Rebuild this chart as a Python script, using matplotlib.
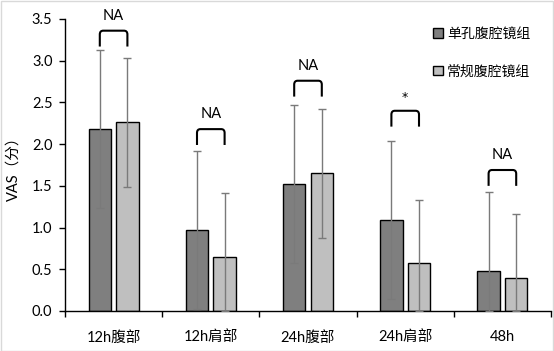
import matplotlib
matplotlib.use("Agg")
import matplotlib.pyplot as plt
from matplotlib.path import Path
from matplotlib.patches import PathPatch, Rectangle
import numpy as np

categories = ["12h腹部", "12h肩部", "24h腹部", "24h肩部", "48h"]
single_mean = [2.18, 0.97, 1.52, 1.09, 0.48]
single_sd = [0.95, 0.95, 0.95, 0.95, 0.95]
conv_mean = [2.26, 0.65, 1.65, 0.57, 0.39]
conv_sd = [0.77, 0.76, 0.77, 0.76, 0.77]
sig_labels = ["NA", "NA", "NA", "*", "NA"]
bracket_top = [3.36, 2.18, 2.76, 2.40, 1.69]
series_names = ["单孔腹腔镜组", "常规腹腔镜组"]
yticks = [0.0, 0.5, 1.0, 1.5, 2.0, 2.5, 3.0, 3.5]

fam = ["Lato", "Noto Sans CJK SC", "DejaVu Sans"]
plt.rcParams["font.family"] = fam

W, H = 554, 351
fig = plt.figure(figsize=(W / 100, H / 100), dpi=100)
ax = fig.add_axes([65 / W, 1 - 311 / H, (551 - 65) / W, (311 - 19) / H])

x = np.arange(len(categories)) + 0.5
off = 0.142
bw = 0.23

ax.bar(x - off, single_mean, bw, color="#7f7f7f", edgecolor="black", linewidth=1.0, label=series_names[0], zorder=2)
ax.bar(x + off, conv_mean, bw, color="#bfbfbf", edgecolor="black", linewidth=1.0, label=series_names[1], zorder=2)

def lower(m, s):
    return [min(a, b) for a, b in zip(m, s)]

ax.errorbar(x - off, single_mean, yerr=[lower(single_mean, single_sd), single_sd], fmt="none",
            ecolor="#7a7a7a", elinewidth=1.0, capsize=3, capthick=1.0, zorder=3)
ax.errorbar(x + off, conv_mean, yerr=[lower(conv_mean, conv_sd), conv_sd], fmt="none",
            ecolor="#7a7a7a", elinewidth=1.0, capsize=3, capthick=1.0, zorder=3)

# brackets
bh = 0.19
rx, ry = 0.035, 0.045
for xi, top, lab in zip(x, bracket_top, sig_labels):
    x0, x1 = xi - off, xi + off
    verts = [(x0, top - bh), (x0, top - ry), (x0, top), (x0 + rx, top),
             (x1 - rx, top), (x1, top), (x1, top - ry), (x1, top - bh)]
    codes = [Path.MOVETO, Path.LINETO, Path.CURVE3, Path.CURVE3,
             Path.LINETO, Path.CURVE3, Path.CURVE3, Path.LINETO]
    ax.add_patch(PathPatch(Path(verts, codes), fill=False, edgecolor="black", linewidth=1.5,
                           capstyle="butt", joinstyle="round", zorder=4, clip_on=False))
    if lab == "*":
        ax.text(xi, top + 0.16, lab, ha="center", va="center", fontsize=9, color="black",
                family="DejaVu Sans", clip_on=False)
    else:
        ax.text(xi, top + 0.18, lab, ha="center", va="center", fontsize=10.5, color="black", clip_on=False)

ax.set_xlim(0, len(categories))
ax.set_ylim(0, 3.5)
ax.set_yticks(yticks)
ax.set_yticklabels([f"{v:.1f}" for v in yticks], fontsize=10.5)
ax.set_xticks(np.arange(len(categories) + 1))
ax.set_xticklabels([])
ax.set_xticks(x, minor=True)
ax.set_xticklabels(categories, minor=True, fontsize=10.5)
ax.tick_params(axis="x", which="minor", length=0, pad=14)
ax.tick_params(axis="x", which="major", length=4, width=1, direction="out", color="black")
ax.tick_params(axis="y", length=4, width=1, direction="out", pad=5)
for s in ["top", "right"]:
    ax.spines[s].set_visible(False)
ax.spines["left"].set_color("black")
ax.spines["bottom"].set_color("black")
ax.spines["left"].set_linewidth(1.0)
ax.spines["bottom"].set_linewidth(1.0)
ax.set_ylabel("VAS（分）", fontsize=10.5, labelpad=8)

leg = ax.legend(loc="upper left", bbox_to_anchor=(426 / W, 1 - 20 / H), bbox_transform=fig.transFigure,
                frameon=False, handlelength=0.7, handleheight=0.7, handletextpad=0.3,
                labelspacing=1.75, fontsize=10, borderpad=0)

fig.patches.append(Rectangle((0.5 / W, 0.5 / H), 1 - 1.5 / W, 1 - 1.5 / H, transform=fig.transFigure,
                             fill=False, edgecolor="#d9d9d9", linewidth=1.0))

fig.savefig("out.png", dpi=100, facecolor="white")
